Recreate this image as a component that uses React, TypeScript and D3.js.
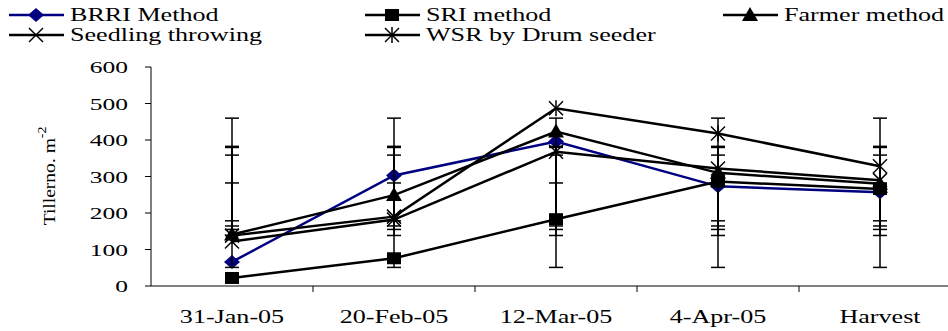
import * as d3 from "d3"

const categories = ["31-Jan-05", "20-Feb-05", "12-Mar-05", "4-Apr-05", "Harvest"]
const brriValues = [66, 303, 396, 273, 257]
const sriValues = [22, 76, 183, 286, 266]
const farmerValues = [141, 249, 423, 310, 280]
const seedlingValues = [122, 182, 368, 322, 290]
const wsrValues = [138, 190, 487, 418, 328]
const yTicks = [0, 100, 200, 300, 400, 500, 600]

type MarkerKind = "diamond" | "square" | "triangle" | "cross" | "asterisk"

const series: { name: string; values: number[]; color: string; marker: MarkerKind }[] = [
  { name: "BRRI Method", values: brriValues, color: "#000080", marker: "diamond" },
  { name: "SRI method", values: sriValues, color: "#000", marker: "square" },
  { name: "Farmer method", values: farmerValues, color: "#000", marker: "triangle" },
  { name: "Seedling throwing", values: seedlingValues, color: "#000", marker: "cross" },
  { name: "WSR by Drum seeder", values: wsrValues, color: "#000", marker: "asterisk" },
]

// legend slots: [x of line start, row center y]
const legendSlots = [
  [9, 15],
  [365, 15],
  [723, 15],
  [9, 35],
  [365, 35],
]

const width = 948
const height = 331
const left = 151
const top = 67
const bottom = 286

function Marker({ kind, x, y, color }: { kind: MarkerKind; x: number; y: number; color: string }) {
  if (kind === "diamond")
    return <path d={`M${x - 8},${y} L${x},${y - 7} L${x + 8},${y} L${x},${y + 7} Z`} fill={color} />
  if (kind === "square") return <rect x={x - 7} y={y - 6} width={14} height={12} fill={color} />
  if (kind === "triangle")
    return <path d={`M${x},${y - 8} L${x + 8},${y + 6} L${x - 8},${y + 6} Z`} fill={color} />
  const s = 7
  return (
    <g stroke={color} strokeWidth={1.5}>
      <line x1={x - s} y1={y - s} x2={x + s} y2={y + s} />
      <line x1={x - s} y1={y + s} x2={x + s} y2={y - s} />
      {kind === "asterisk" && <line x1={x} y1={y - s - 1} x2={x} y2={y + s + 1} />}
    </g>
  )
}

export default function App() {
  const x = d3.scaleBand().domain(categories).range([left, left + 162 * categories.length]).padding(0)
  const y = d3.scaleLinear().domain([0, 600]).range([bottom, top])
  const cx = (c: string) => (x(c) || 0) + x.bandwidth() / 2
  const line = d3
    .line<number>()
    .x((_, i) => cx(categories[i]))
    .y((d) => y(d))

  return (
    <svg
      width={width}
      height={height}
      style={{ position: "absolute", left: 0, top: 0, background: "#fff" }}
      fontFamily="'Liberation Serif', 'Times New Roman', serif"
    >
      {/* legend */}
      {series.map((s, i) => {
        const [lx, ly] = legendSlots[i]
        return (
          <g key={s.name}>
            <line x1={lx} x2={lx + 55} y1={ly} y2={ly} stroke={s.color} strokeWidth={2.5} />
            <Marker kind={s.marker} x={lx + 27} y={ly} color={s.color} />
            <text transform={`translate(${lx + 61},${ly + 6}) scale(1.45,1)`} fontSize={18}>
              {s.name}
            </text>
          </g>
        )
      })}

      {/* y axis */}
      <line x1={left} x2={left} y1={top} y2={bottom} stroke="#000" strokeWidth={1} />
      {yTicks.map((t) => (
        <g key={t}>
          <line x1={left - 6} x2={left} y1={y(t)} y2={y(t)} stroke="#000" />
          <text transform={`translate(128,${y(t) + 6}) scale(1.5,1)`} fontSize={17} textAnchor="end">
            {t}
          </text>
        </g>
      ))}
      <text transform={`translate(55,176) rotate(-90) scale(1.15,1)`} fontSize={17} textAnchor="middle">
        Tillerno. m
        <tspan fontSize={12} dy={-9}>-2</tspan>
      </text>

      {/* x axis */}
      <line x1={left} x2={width} y1={bottom} y2={bottom} stroke="#000" />
      {categories.map((c, i) => (
        <g key={c}>
          {i > 0 && <line x1={x(c)} x2={x(c)} y1={bottom} y2={bottom + 6} stroke="#000" />}
          <text transform={`translate(${cx(c)},323) scale(1.45,1)`} fontSize={18} textAnchor="middle">
            {c}
          </text>
        </g>
      ))}

      {/* series: standard deviation error bars, lines, markers */}
      {series.map((s) => {
        const m = d3.mean(s.values) || 0
        const sd = d3.deviation(s.values) || 0
        return (
          <g key={s.name}>
            {categories.map((c) => (
              <g key={c} stroke="#000" strokeWidth={1.5}>
                <line x1={cx(c)} x2={cx(c)} y1={y(m + sd)} y2={y(m - sd)} />
                <line x1={cx(c) - 7} x2={cx(c) + 7} y1={y(m + sd)} y2={y(m + sd)} />
                <line x1={cx(c) - 7} x2={cx(c) + 7} y1={y(m - sd)} y2={y(m - sd)} />
              </g>
            ))}
            <path d={line(s.values) || ""} fill="none" stroke={s.color} strokeWidth={2.5} />
            {s.values.map((v, i) => (
              <Marker key={i} kind={s.marker} x={cx(categories[i])} y={y(v)} color={s.color} />
            ))}
          </g>
        )
      })}
    </svg>
  )
}
